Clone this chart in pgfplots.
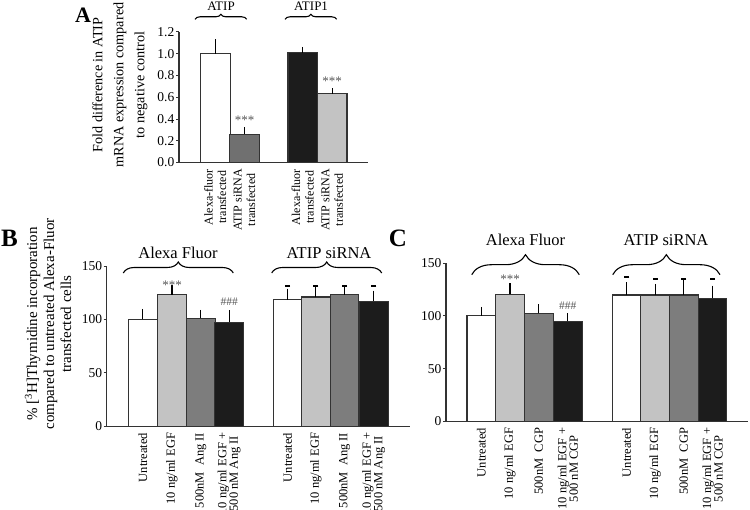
\documentclass[border=0pt]{standalone}
\usepackage{fontspec}
\setmainfont{Liberation Serif}
\usepackage{pgfplots}
\pgfplotsset{compat=1.18}
\usetikzlibrary{decorations.pathreplacing}

\definecolor{lgray}{HTML}{C3C3C3}
\definecolor{mgray}{HTML}{7D7D7D}
\definecolor{dgray}{HTML}{707070}
\definecolor{bblack}{HTML}{1C1C1C}
\definecolor{edge}{HTML}{333333}
\definecolor{stargray}{HTML}{555555}

\pgfplotsset{
  panel/.style={
    scale only axis, anchor=south west,
    axis x line=bottom, axis y line=left,
    axis line style={-, line width=1.1pt, color=edge},
    tick align=outside, major tick length=3pt,
    ytick style={line width=0.9pt, color=edge},
    xtick style={draw=none},
    enlargelimits=false, clip=false,
    /pgf/number format/assume math mode=true,
    yticklabel style={font=\fontsize{13.5}{15}\selectfont, inner sep=1.5pt},
    xticklabel style={rotate=90, anchor=east, align=center},
  },
  barplot/.style={ybar, bar width=#1, bar shift=0pt, draw=edge, line width=1.1pt,
    error bars/y dir=plus, error bars/y explicit,
    error bars/error bar style={line width=1.3pt, black},
    error bars/error mark options={line width=1.3pt, mark size=2.5pt, black}},
  dashes/.style={only marks, mark=-, mark size=2.6pt, mark options={line width=2.2pt, black}},
}

\begin{document}
\begin{tikzpicture}[x=1pt, y=1pt]

% ---------------- Panel A ----------------
\begin{axis}[panel, at={(179,319)}, width=189pt, height=130.7pt,
  xmin=179, xmax=368, ymin=0, ymax=1.2,
  ytick={0,0.2,0.4,0.6,0.8,1.0,1.2},
  yticklabel style={/pgf/number format/.cd, fixed, fixed zerofill, precision=1},
  xtick={215.3,244.5,302.7,332.2},
  xticklabels={{Alexa-fluor\\transfected},{ATIP siRNA\\transfected},{Alexa-fluor\\transfected},{ATIP siRNA\\transfected}},
  xticklabel style={font=\fontsize{12}{13.5}\selectfont},
]
\addplot[barplot=29.5, fill=white] coordinates {(215.3,1.00) +- (0,0.11)};
\addplot[barplot=29.5, fill=dgray] coordinates {(244.5,0.26) +- (0,0.04)};
\addplot[barplot=29.5, fill=bblack] coordinates {(302.7,1.01) +- (0,0.03)};
\addplot[barplot=29.5, fill=lgray] coordinates {(332.2,0.63) +- (0,0.03)};
\node[font=\fontsize{13}{15}\selectfont, text=stargray, anchor=base, inner sep=0] at (axis cs:244.5,0.349) {***};
\node[font=\fontsize{13}{15}\selectfont, text=stargray, anchor=base, inner sep=0] at (axis cs:332.2,0.704) {***};
\end{axis}

\node[rotate=90, align=center, font=\fontsize{14.2}{21}\selectfont] at (120,425)
  {Fold difference in ATIP\\mRNA expression compared\\to negative control};
\node[font=\bfseries\fontsize{22}{24}\selectfont] at (83,495) {A};

\draw[line width=1.1pt, decorate, decoration={brace, amplitude=5pt}] (195,490.7) -- (246.7,490.7);
\draw[line width=1.1pt, decorate, decoration={brace, amplitude=5pt}] (285,490.7) -- (336.7,490.7);
\node[font=\fontsize{13}{15}\selectfont, anchor=base, inner sep=0] at (221,499.5) {ATIP};
\node[font=\fontsize{13}{15}\selectfont, anchor=base, inner sep=0] at (311,499.5) {ATIP1};

% ---------------- Panel B ----------------
\begin{axis}[panel, at={(106.7,78.3)}, width=303.3pt, height=160.3pt,
  xmin=106.7, xmax=410, ymin=0, ymax=150,
  ytick={0,50,100,150},
  xtick={142.8,172,200.8,229.2,287.5,315.8,344.5,373.7},
  xticklabels={Untreated,10 ng/ml EGF,500nM\ \ Ang II,{10 ng/ml EGF +\\500 nM Ang II},
               Untreated,10 ng/ml EGF,500nM\ \ Ang II,{10 ng/ml EGF +\\500 nM Ang II}},
  xticklabel style={font=\fontsize{12.5}{11.5}\selectfont},
]
\addplot[barplot=28.8, fill=white]  coordinates {(142.8,100.0) +- (0,7.5) (287.5,118.5) +- (0,8.1)};
\addplot[barplot=28.8, fill=lgray]  coordinates {(172.0,123.2) +- (0,6.5) (315.8,121.0) +- (0,7.2)};
\addplot[barplot=28.8, fill=mgray]  coordinates {(200.8,101.3) +- (0,5.3) (344.5,123.2) +- (0,6.6)};
\addplot[barplot=28.8, fill=bblack] coordinates {(229.2,97.5) +- (0,9.0) (373.7,117.2) +- (0,7.5)};
\addplot[dashes] coordinates {(287.5,131.3) (315.8,131.3) (344.5,131.3) (373.7,131.3)};
\node[font=\fontsize{13}{15}\selectfont, text=stargray, anchor=base, inner sep=0] at (axis cs:172,128.2) {***};
\node[font=\fontsize{11.5}{13}\selectfont, text=stargray, inner sep=0] at (axis cs:229.2,116.3) {\#\#\#};
\end{axis}

\node[rotate=90, align=center, font=\fontsize{15}{17}\selectfont] at (48,186)
  {\% [\textsuperscript{3}H]Thymidine incorporation\\compared to untreated Alexa-Fluor\\transfected cells};
\node[font=\bfseries\fontsize{25}{27}\selectfont] at (9.5,271.5) {B};

\draw[line width=1.1pt, decorate, decoration={brace, amplitude=11pt}] (123.3,237) -- (233.3,237);
\draw[line width=1.1pt, decorate, decoration={brace, amplitude=11pt}] (271.7,237) -- (381.7,237);
\node[font=\fontsize{16.5}{18}\selectfont, anchor=base, inner sep=0] at (178,251) {Alexa Fluor};
\node[font=\fontsize{16.5}{18}\selectfont, anchor=base, inner sep=0] at (329,251) {ATIP siRNA};

% ---------------- Panel C ----------------
\begin{axis}[panel, at={(446,84)}, width=302pt, height=158.3pt,
  xmin=446, xmax=748, ymin=0, ymax=150,
  ytick={0,50,100,150},
  xtick={481.3,510,538.8,567.8,626.7,655.2,683.8,712.5},
  xticklabels={Untreated,10 ng/ml EGF,500nM\ \ CGP,{10 ng/ml EGF +\\500 nM CGP},
               Untreated,10 ng/ml EGF,500nM\ \ CGP,{10 ng/ml EGF +\\500 nM CGP}},
  xticklabel style={font=\fontsize{12.5}{11.5}\selectfont},
]
\addplot[barplot=28.7, fill=white]  coordinates {(481.3,99.9) +- (0,6.3) (626.7,119.7) +- (0,9.5)};
\addplot[barplot=28.7, fill=lgray]  coordinates {(510.0,120.5) +- (0,7.9) (655.2,119.7) +- (0,8.2)};
\addplot[barplot=28.7, fill=mgray]  coordinates {(538.8,102.4) +- (0,6.1) (683.8,119.7) +- (0,12.7)};
\addplot[barplot=28.7, fill=bblack] coordinates {(567.8,94.8) +- (0,5.1) (712.5,116.6) +- (0,9.7)};
\addplot[dashes] coordinates {(626.7,136.5) (655.2,134.8) (683.8,134.8) (712.5,134.8)};
\node[font=\fontsize{13}{15}\selectfont, text=stargray, anchor=base, inner sep=0] at (axis cs:510,130.2) {***};
\node[font=\fontsize{11.5}{13}\selectfont, text=stargray, inner sep=0] at (axis cs:567.8,109.3) {\#\#\#};
\end{axis}

\node[font=\bfseries\fontsize{25}{27}\selectfont] at (398,271.5) {C};
\draw[line width=1.1pt, decorate, decoration={brace, amplitude=20pt}] (471.7,235.3) -- (579.3,235.3);
\draw[line width=1.1pt, decorate, decoration={brace, amplitude=20pt}] (612.7,235.3) -- (720,235.3);
\node[font=\fontsize{16.5}{18}\selectfont, anchor=base, inner sep=0] at (525.5,264) {Alexa Fluor};
\node[font=\fontsize{16.5}{18}\selectfont, anchor=base, inner sep=0] at (666,264) {ATIP siRNA};

\pgfresetboundingbox
\useasboundingbox (0,0) rectangle (750,510);
\end{tikzpicture}
\end{document}
